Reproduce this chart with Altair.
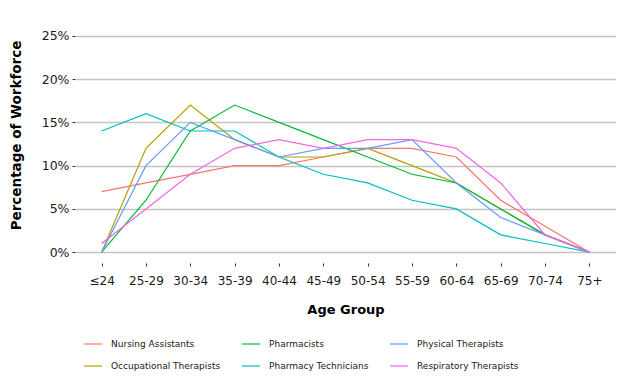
import altair as alt
import pandas as pd

ages = ["≤24", "25-29", "30-34", "35-39", "40-44", "45-49", "50-54", "55-59", "60-64", "65-69", "70-74", "75+"]

nursing_assistants = [7, 8, 9, 10, 10, 11, 12, 12, 11, 6, 3, 0]
occupational_therapists = [0, 12, 17, 13, 11, 11, 12, 10, 8, 5, 2, 0]
pharmacists = [0, 6, 14, 17, 15, 13, 11, 9, 8, 5, 2, 0]
pharmacy_technicians = [14, 16, 14, 14, 11, 9, 8, 6, 5, 2, 1, 0]
physical_therapists = [0, 10, 15, 13, 11, 12, 12, 13, 8, 4, 2, 0]
respiratory_therapists = [1, 5, 9, 12, 13, 12, 13, 13, 12, 8, 2, 0]

series = {
    "Nursing Assistants": nursing_assistants,
    "Occupational Therapists": occupational_therapists,
    "Pharmacists": pharmacists,
    "Pharmacy Technicians": pharmacy_technicians,
    "Physical Therapists": physical_therapists,
    "Respiratory Therapists": respiratory_therapists,
}
colors = {
    "Nursing Assistants": "#F8766D",
    "Occupational Therapists": "#B79F00",
    "Pharmacists": "#00BA38",
    "Pharmacy Technicians": "#00BFC4",
    "Physical Therapists": "#619CFF",
    "Respiratory Therapists": "#F564E3",
}
legend_order = list(series.keys())

rows = []
for name, vals in series.items():
    for a, v in zip(ages, vals):
        rows.append({"age": a, "occupation": name, "pct": v / 100})
df = pd.DataFrame(rows)

chart = alt.Chart(df).mark_line(strokeWidth=1.2).encode(
    x=alt.X("age:O", sort=ages, scale=alt.Scale(type="point", padding=0.6),
            axis=alt.Axis(title="Age Group", labelAngle=0, grid=False, domain=False,
                          tickColor="#333333", tickSize=3, labelPadding=9,
                          labelFontSize=12, labelColor="#1a1a1a", titlePadding=17,
                          titleFontSize=13, titleFontWeight="bold", titleColor="#000000")),
    y=alt.Y("pct:Q", scale=alt.Scale(domain=[-0.0125, 0.2625], nice=False, zero=False),
            axis=alt.Axis(title="Percentage of Workforce", format=".0%",
                          values=[0, 0.05, 0.10, 0.15, 0.20, 0.25], domain=False,
                          grid=True, gridColor="#c4c4c4", gridWidth=1.5,
                          tickColor="#333333", tickSize=3, labelPadding=3,
                          labelFontSize=12.5, labelColor="#1a1a1a",
                          titleFontSize=13.5, titleFontWeight="bold", titleColor="#000000",
                          titleX=-52, titleY=110)),
    color=alt.Color("occupation:N",
                    scale=alt.Scale(domain=legend_order, range=[colors[k] for k in legend_order]),
                    legend=alt.Legend(title=None, orient="none", legendX=8, legendY=309,
                                      columns=3, symbolType="stroke", symbolSize=324,
                                      symbolStrokeWidth=1.2, labelFontSize=9,
                                      labelColor="#1a1a1a", labelOffset=8,
                                      rowPadding=7, columnPadding=18)),
).properties(
    width=541, height=238,
    autosize=alt.AutoSizeParams(type="none"),
    padding={"left": 67, "top": 17, "right": 0, "bottom": 113},
).configure(font="DejaVu Sans").configure_view(stroke=None)

chart.save("out.html", embed_options={"renderer": "svg", "actions": False})
